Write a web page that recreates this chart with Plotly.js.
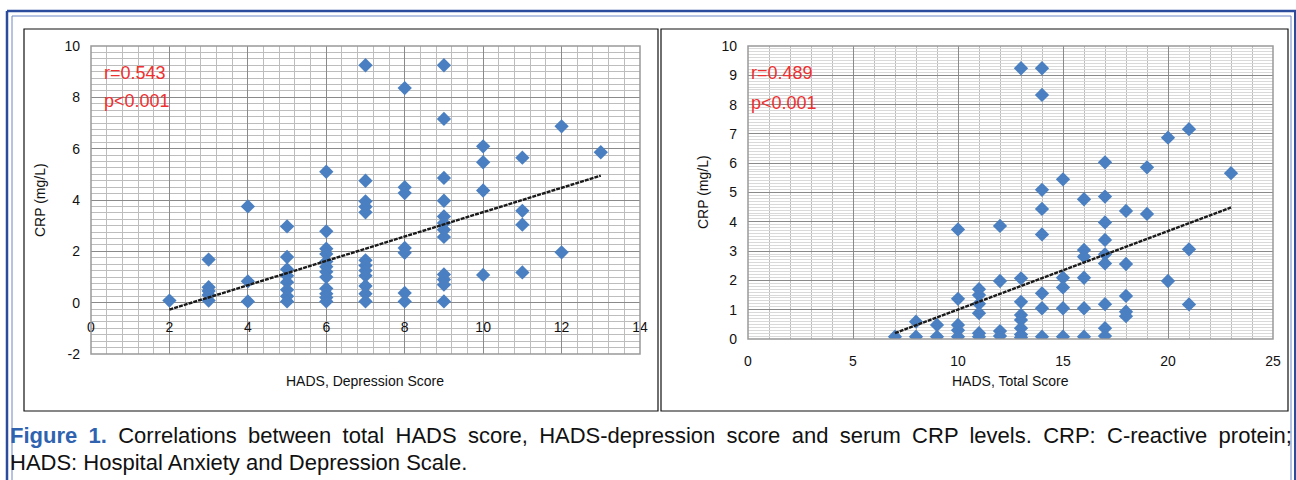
<!DOCTYPE html>
<html>
<head>
<meta charset="utf-8">
<script src="https://cdn.plot.ly/plotly-3.0.1.min.js"></script>
<style>html,body{margin:0;padding:0;background:#fff}#chart{width:1296px;height:480px}</style>
</head>
<body>
<div id="chart"></div>
<script>
// ---- Data: left panel (HADS depression score vs CRP) ----
const depScore = [2,
  3,3,3,3,3,
  4,4,4,
  5,5,5,5,5,5,5,5,
  6,6,6,6,6,6,6,6,6,6,6,6,
  7,7,7,7,7,7,7,7,7,7,7,7,
  8,8,8,8,8,8,8,
  9,9,9,9,9,9,9,9,9,9,9,9,
  10,10,10,10,
  11,11,11,11,
  12,12,
  13];
const depCRP = [0.08,
  1.68,0.6,0.45,0.3,0.08,
  3.75,0.83,0.05,
  2.97,1.78,1.3,1.05,0.8,0.5,0.25,0.05,
  5.1,2.78,2.1,1.9,1.6,1.4,1.2,1.0,0.55,0.35,0.2,0.05,
  9.25,4.75,3.95,3.74,3.52,1.65,1.45,1.25,1.05,0.65,0.35,0.05,
  8.36,4.5,4.27,2.13,1.94,0.38,0.05,
  9.25,7.16,4.86,3.97,3.36,3.1,2.84,2.56,1.1,0.9,0.7,0.05,
  6.09,5.47,4.37,1.08,
  5.65,3.58,3.04,1.18,
  6.87,1.96,
  5.86];
const depTrendX = [2, 13];
const depTrendY = [-0.27, 4.95];
const depYTicks = [-2, 0, 2, 4, 6, 8, 10];
const depYTickText = ['-2', '0', '2', '4', '6', '8', '10'];

// ---- Data: right panel (HADS total score vs CRP) ----
const totScore = [7,
  8,8,
  9,9,
  10,10,10,10,10,
  11,11,11,11,11,11,
  12,12,12,12,
  13,13,13,13,13,13,13,13,
  14,14,14,14,14,14,14,14,
  15,15,15,15,15,
  16,16,16,16,16,16,
  17,17,17,17,17,17,17,17,17,
  18,18,18,18,18,
  19,19,
  20,20,
  21,21,21,
  23];
const totCRP = [0.08,
  0.59,0.08,
  0.48,0.08,
  3.74,1.37,0.48,0.3,0.08,
  1.7,1.5,1.2,0.88,0.2,0.08,
  3.86,1.98,0.27,0.1,
  9.24,2.07,1.27,0.82,0.65,0.37,0.15,0.05,
  9.24,8.33,5.09,4.44,3.57,1.56,1.05,0.08,
  5.45,2.09,1.76,1.05,0.08,
  4.77,3.04,2.81,2.09,1.05,0.08,
  6.03,4.86,3.98,3.38,2.89,2.58,1.19,0.37,0.1,
  4.37,2.56,1.47,0.93,0.78,
  5.86,4.27,
  6.87,1.98,
  7.16,3.06,1.18,
  5.66];
const totTrendX = [7, 23];
const totTrendY = [0.2, 4.49];

// ---- Text ----
const yTitle = 'CRP (mg/L)';
const xTitleLeft = 'HADS, Depression Score';
const xTitleRight = 'HADS, Total Score';
const statsLeft = ['r=0.543', 'p<0.001'];
const statsRight = ['r=0.489', 'p<0.001'];
const captionLead = 'Figure 1.';
const captionLine1 = 'Correlations between total HADS score, HADS-depression score and serum CRP levels. CRP: C-reactive protein;';
const captionLine2 = 'HADS: Hospital Anxiety and Depression Scale.';

// ---- helpers for pixel -> paper ----
const W = 1296, H = 480;
const px = v => v / W;
const py = v => 1 - v / H;

const FONT = "Arial, 'Liberation Sans', Helvetica, sans-serif";
const CAPFONT = "Arial, 'Liberation Sans', Helvetica, sans-serif";
const BLUE = '#4a7fc2';
const GRID_MAJ = '#8a8a8a';
const GRID_MIN = '#bdbdbd';

const markerStyle = {symbol: 'diamond', size: 11, color: BLUE, line: {width: 0}};
const trendStyle = {color: '#1a1a1a', width: 2.4, dash: '4px,1px'};

const traces = [
  {x: depScore, y: depCRP, type: 'scatter', mode: 'markers', marker: markerStyle, xaxis: 'x', yaxis: 'y'},
  {x: depTrendX, y: depTrendY, type: 'scatter', mode: 'lines', line: trendStyle, xaxis: 'x', yaxis: 'y'},
  {x: totScore, y: totCRP, type: 'scatter', mode: 'markers', marker: markerStyle, xaxis: 'x2', yaxis: 'y2'},
  {x: totTrendX, y: totTrendY, type: 'scatter', mode: 'lines', line: trendStyle, xaxis: 'x2', yaxis: 'y2'}
];

const tickFont = {family: FONT, size: 14, color: '#111'};
const capFont = {family: CAPFONT, size: 22, color: '#111'};

const layout = {
  width: W, height: H,
  margin: {l: 0, r: 0, t: 0, b: 0},
  paper_bgcolor: '#ffffff',
  plot_bgcolor: '#ffffff',
  showlegend: false,
  font: {family: FONT, size: 14, color: '#111'},
  xaxis: {
    domain: [px(91), px(640)], range: [0, 14], anchor: 'free', position: py(303),
    dtick: 2, tick0: 0, showgrid: true, gridcolor: GRID_MAJ, gridwidth: 1,
    minor: {dtick: 0.4, showgrid: true, gridcolor: GRID_MIN, gridwidth: 1},
    zeroline: false, showline: false, ticks: '', ticklabelstandoff: 14,
    tickfont: tickFont, fixedrange: true
  },
  yaxis: {
    domain: [py(354), py(46)], range: [-2, 10], anchor: 'x',
    tickmode: 'array', tickvals: depYTicks, ticktext: depYTickText,
    showgrid: true, gridcolor: GRID_MAJ, gridwidth: 1,
    minor: {dtick: 0.25, tick0: 0, showgrid: true, gridcolor: GRID_MIN, gridwidth: 1},
    zeroline: false, showline: false, ticks: '', ticklabelstandoff: 10,
    tickfont: tickFont, fixedrange: true
  },
  xaxis2: {
    domain: [px(748), px(1273)], range: [0, 25], anchor: 'y2',
    dtick: 5, tick0: 0, showgrid: true, gridcolor: GRID_MAJ, gridwidth: 1,
    minor: {dtick: 1, showgrid: true, gridcolor: GRID_MIN, gridwidth: 1},
    zeroline: false, showline: false, ticks: '', ticklabelstandoff: 12,
    tickfont: tickFont, fixedrange: true
  },
  yaxis2: {
    domain: [py(339), py(46)], range: [0, 10], anchor: 'x2',
    dtick: 1, tick0: 0, showgrid: true, gridcolor: GRID_MAJ, gridwidth: 1,
    minor: {dtick: 0.1, showgrid: true, gridcolor: '#d9d9d9', gridwidth: 1},
    zeroline: false, showline: false, ticks: '', ticklabelstandoff: 10,
    tickfont: tickFont, fixedrange: true
  },
  shapes: [
    // outer blue double frame
    {type: 'line', xref: 'paper', yref: 'paper', x0: px(7), x1: px(7), y0: py(11), y1: 0, line: {color: '#2b4c9c', width: 2.5}},
    {type: 'line', xref: 'paper', yref: 'paper', x0: px(7), x1: 1, y0: py(11), y1: py(11), line: {color: '#2b4c9c', width: 2.5}},
    {type: 'line', xref: 'paper', yref: 'paper', x0: px(12), x1: px(12), y0: py(16), y1: 0, line: {color: '#6d87c4', width: 1}},
    {type: 'line', xref: 'paper', yref: 'paper', x0: px(12), x1: px(1291), y0: py(16), y1: py(16), line: {color: '#6d87c4', width: 1}},
    {type: 'line', xref: 'paper', yref: 'paper', x0: px(1291), x1: px(1291), y0: py(16), y1: 0, line: {color: '#6d87c4', width: 1}},
    {type: 'line', xref: 'paper', yref: 'paper', x0: px(1295), x1: px(1295), y0: py(11), y1: 0, line: {color: '#2b4c9c', width: 2}},
    // black boxes around the two charts
    {type: 'rect', xref: 'paper', yref: 'paper', x0: px(24), x1: px(658), y0: py(411), y1: py(29), line: {color: '#111', width: 1.2}, fillcolor: 'rgba(0,0,0,0)'},
    {type: 'rect', xref: 'paper', yref: 'paper', x0: px(661), x1: px(1288), y0: py(411), y1: py(29), line: {color: '#111', width: 1.2}, fillcolor: 'rgba(0,0,0,0)'},
    // plot-area frames
    {type: 'rect', xref: 'x domain', yref: 'y domain', x0: 0, x1: 1, y0: 0, y1: 1, line: {color: '#999', width: 1.5}, fillcolor: 'rgba(0,0,0,0)'},
    {type: 'rect', xref: 'x2 domain', yref: 'y2 domain', x0: 0, x1: 1, y0: 0, y1: 1, line: {color: '#999', width: 1.5}, fillcolor: 'rgba(0,0,0,0)'}
  ],
  annotations: [
    {xref: 'paper', yref: 'paper', x: px(40), y: py(200), text: yTitle, textangle: -90, showarrow: false, font: {family: FONT, size: 14, color: '#111'}, xanchor: 'center', yanchor: 'middle'},
    {xref: 'paper', yref: 'paper', x: px(703), y: py(192), text: yTitle, textangle: -90, showarrow: false, font: {family: FONT, size: 14, color: '#111'}, xanchor: 'center', yanchor: 'middle'},
    {xref: 'paper', yref: 'paper', x: px(365), y: py(381), text: xTitleLeft, showarrow: false, font: {family: FONT, size: 14, color: '#111'}, xanchor: 'center', yanchor: 'middle'},
    {xref: 'paper', yref: 'paper', x: px(1010), y: py(381), text: xTitleRight, showarrow: false, font: {family: FONT, size: 14, color: '#111'}, xanchor: 'center', yanchor: 'middle'},
    {xref: 'paper', yref: 'paper', x: px(102), y: py(73), text: statsLeft[0], showarrow: false, font: {family: FONT, size: 18, color: '#ee3030'}, xanchor: 'left', yanchor: 'middle'},
    {xref: 'paper', yref: 'paper', x: px(102), y: py(101), text: statsLeft[1], showarrow: false, font: {family: FONT, size: 18, color: '#ee3030'}, xanchor: 'left', yanchor: 'middle'},
    {xref: 'paper', yref: 'paper', x: px(749), y: py(73), text: statsRight[0], showarrow: false, font: {family: FONT, size: 18, color: '#ee3030'}, xanchor: 'left', yanchor: 'middle'},
    {xref: 'paper', yref: 'paper', x: px(749), y: py(103), text: statsRight[1], showarrow: false, font: {family: FONT, size: 18, color: '#ee3030'}, xanchor: 'left', yanchor: 'middle'},
    {xref: 'paper', yref: 'paper', x: px(8), y: py(435), text: '<b><span style="color:#2f63b0">' + captionLead + '</span></b> ' + captionLine1, showarrow: false, font: capFont, xanchor: 'left', yanchor: 'middle'},
    {xref: 'paper', yref: 'paper', x: px(8), y: py(462), text: captionLine2, showarrow: false, font: capFont, xanchor: 'left', yanchor: 'middle'}
  ]
};

Plotly.newPlot('chart', traces, layout, {staticPlot: true, displayModeBar: false}).then(function (gd) {
  // justify the first caption line across the figure width (as in the reference)
  const anns = gd.querySelectorAll('.annotation-text');
  const el = anns[8];
  if (!el) return;
  const len = el.getComputedTextLength ? el.getComputedTextLength() : el.getBBox().width;
  const spaces = (captionLead + ' ' + captionLine1).split(' ').length - 1;
  const target = 1290 - 8;
  const ws = (target - len) / spaces;
  const txt = '<span style="word-spacing:' + ws.toFixed(2) + 'px"><b><span style="color:#2f63b0">' + captionLead + '</span></b> ' + captionLine1 + '</span>';
  return Plotly.relayout(gd, {'annotations[8].text': txt});
});
</script>
</body>
</html>
